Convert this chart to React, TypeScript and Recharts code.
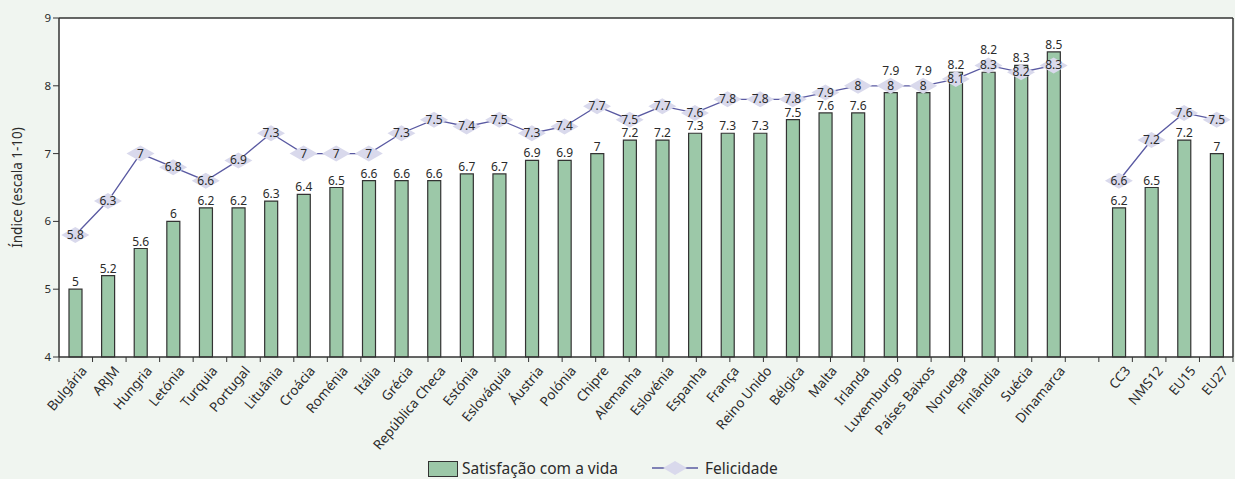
import React from "react";
import {
  ComposedChart,
  Bar,
  Line,
  XAxis,
  YAxis,
  CartesianGrid,
  Legend,
  LabelList,
} from "recharts";

// Countries, then an empty slot, then the group aggregates
const categories = [
  "Bulgária", "ARJM", "Hungria", "Letónia", "Turquia", "Portugal", "Lituânia",
  "Croácia", "Roménia", "Itália", "Grécia", "República Checa", "Estónia",
  "Eslováquia", "Áustria", "Polónia", "Chipre", "Alemanha", "Eslovénia",
  "Espanha", "França", "Reino Unido", "Bélgica", "Malta", "Irlanda",
  "Luxemburgo", "Países Baixos", "Noruega", "Finlândia", "Suécia", "Dinamarca",
  "", "CC3", "NMS12", "EU15", "EU27",
];

const satisfacao: (number | null)[] = [
  5, 5.2, 5.6, 6, 6.2, 6.2, 6.3, 6.4, 6.5, 6.6, 6.6, 6.6, 6.7, 6.7, 6.9, 6.9,
  7, 7.2, 7.2, 7.3, 7.3, 7.3, 7.5, 7.6, 7.6, 7.9, 7.9, 8.2, 8.2, 8.3, 8.5,
  null, 6.2, 6.5, 7.2, 7,
];

const felicidade: (number | null)[] = [
  5.8, 6.3, 7, 6.8, 6.6, 6.9, 7.3, 7, 7, 7, 7.3, 7.5, 7.4, 7.5, 7.3, 7.4,
  7.7, 7.5, 7.7, 7.6, 7.8, 7.8, 7.8, 7.9, 8, 8, 8, 8.1, 8.3, 8.2, 8.3,
  null, 6.6, 7.2, 7.6, 7.5,
];

const yTicks = [4, 5, 6, 7, 8, 9];
const slotEdges = categories.map((_, i) => i).concat([categories.length]);

const data = categories.map((name, i) => ({
  name,
  satisfacao: satisfacao[i],
  felicidade: felicidade[i],
}));

const FONT = "'Noto Sans', 'DejaVu Sans', sans-serif";
const TEXT = "#2b2b2b";
const AXIS = "#333333";
const BAR_FILL = "#9cc8a8";
const LINE = "#5a5aa2";
const DIAMOND = "#d9d9ec";
const DIAMOND_W = 14;
const DIAMOND_H = 8;

const EmptyTick = () => <g />;

const DiamondDot = (props: any) => {
  const { cx, cy, value, index } = props;
  if (value == null || cx == null || cy == null) return <g key={`d-${index}`} />;
  return (
    <g key={`d-${index}`}>
      <polygon
        points={`${cx - DIAMOND_W},${cy} ${cx},${cy - DIAMOND_H} ${cx + DIAMOND_W},${cy} ${cx},${cy + DIAMOND_H}`}
        fill={DIAMOND}
      />
      <text
        x={cx}
        y={cy + 4}
        textAnchor="middle"
        fontSize={12}
        fontFamily={FONT}
        fill={TEXT}
      >
        {value}
      </text>
    </g>
  );
};

// Bar value label; lifted above the happiness marker when the marker sits on the bar top
const BarValueLabel = (props: any) => {
  const { x, y, width, height, value, index } = props;
  if (value == null) return null;
  const sat = satisfacao[index] as number;
  const fel = felicidade[index];
  const cx = x + width / 2;
  let baseline = y - 3;
  if (fel != null && fel - sat >= 0 && fel - sat <= 0.2 && sat > 4) {
    const perUnit = height / (sat - 4);
    const diamondCy = y - (fel - sat) * perUnit;
    baseline = Math.min(baseline, diamondCy - DIAMOND_H - 3);
  }
  return (
    <text
      x={cx}
      y={baseline}
      textAnchor="middle"
      fontSize={12}
      fontFamily={FONT}
      fill={TEXT}
    >
      {value}
    </text>
  );
};

const LegendContent = () => (
  <div
    style={{
      height: 22,
      position: "relative",
      fontFamily: FONT,
      fontSize: 15.5,
      color: TEXT,
    }}
  >
    <div
      style={{
        position: "absolute",
        left: 428,
        top: 4,
        width: 28,
        height: 14,
        background: BAR_FILL,
        border: `1px solid ${AXIS}`,
      }}
    />
    <span style={{ position: "absolute", left: 462, top: 0, whiteSpace: "nowrap" }}>
      Satisfação com a vida
    </span>
    <svg
      style={{ position: "absolute", left: 650, top: 3 }}
      width={50}
      height={16}
    >
      <line x1={2} y1={8} x2={48} y2={8} stroke={LINE} strokeWidth={1.5} />
      <polygon points="13,8 25,1 37,8 25,15" fill={DIAMOND} />
    </svg>
    <span style={{ position: "absolute", left: 705, top: 0, whiteSpace: "nowrap" }}>
      Felicidade
    </span>
  </div>
);

export default function App() {
  return (
    <div
      style={{
        position: "absolute",
        left: 0,
        top: 0,
        width: 1235,
        height: 479,
        background: "#f0f5f0",
      }}
    >
      <ComposedChart
        width={1235}
        height={479}
        data={data}
        margin={{ top: 17, right: 1, left: 0, bottom: 0 }}
        barCategoryGap={0}
      >
        <CartesianGrid
          fill="#ffffff"
          horizontal={false}
          vertical={false}
          xAxisId="names"
          yAxisId="left"
        />
        {/* slot boundary ticks along the baseline */}
        <XAxis
          xAxisId="base"
          type="number"
          domain={[0, categories.length]}
          ticks={slotEdges}
          interval={0}
          height={1}
          axisLine={{ stroke: AXIS, strokeWidth: 1.5 }}
          tickLine={{ stroke: AXIS }}
          tickSize={5}
          tick={<EmptyTick />}
          allowDataOverflow
        />
        <XAxis
          xAxisId="names"
          dataKey="name"
          interval={0}
          height={99}
          tickSize={4}
          tickMargin={0}
          tickLine={false}
          axisLine={false}
          angle={-50}
          textAnchor="end"
          dx={5}
          dy={3}
          tick={{ fontSize: 13.5, fontFamily: FONT, fill: TEXT }}
        />
        <XAxis
          xAxisId="top"
          orientation="top"
          type="number"
          domain={[0, 1]}
          height={1}
          tick={false}
          tickLine={false}
          axisLine={{ stroke: AXIS, strokeWidth: 1.5 }}
        />
        <YAxis
          yAxisId="left"
          domain={[4, 9]}
          ticks={yTicks}
          interval={0}
          width={59}
          tickSize={6}
          tickLine={{ stroke: AXIS }}
          axisLine={{ stroke: AXIS, strokeWidth: 1.5 }}
          tick={{ fontSize: 11.5, fontFamily: FONT, fill: TEXT }}
          label={{
            value: "Índice (escala 1-10)",
            angle: -90,
            position: "insideLeft",
            offset: 17,
            style: {
              textAnchor: "middle",
              fontSize: 13.5,
              fontFamily: FONT,
              fill: TEXT,
            },
          }}
        />
        <YAxis
          yAxisId="right"
          orientation="right"
          domain={[4, 9]}
          width={1}
          tick={false}
          tickLine={false}
          axisLine={{ stroke: AXIS, strokeWidth: 1.5 }}
        />
        <Legend verticalAlign="bottom" content={<LegendContent />} />
        <Bar
          xAxisId="names"
          yAxisId="left"
          dataKey="satisfacao"
          name="Satisfação com a vida"
          barSize={13}
          fill={BAR_FILL}
          stroke={AXIS}
          strokeWidth={1.2}
          isAnimationActive={false}
        >
          <LabelList dataKey="satisfacao" content={<BarValueLabel />} />
        </Bar>
        <Line
          xAxisId="names"
          yAxisId="left"
          dataKey="felicidade"
          name="Felicidade"
          stroke={LINE}
          strokeWidth={1.3}
          dot={<DiamondDot />}
          activeDot={false}
          connectNulls={false}
          isAnimationActive={false}
        />
      </ComposedChart>
    </div>
  );
}
